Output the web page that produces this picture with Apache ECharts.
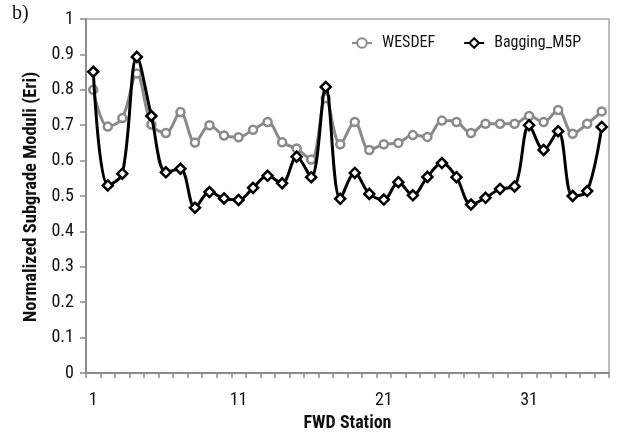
<!DOCTYPE html>
<html>
<head>
<meta charset="utf-8">
<script src="https://cdn.jsdelivr.net/npm/echarts@6/dist/echarts.min.js"></script>
<style>html,body{margin:0;padding:0;background:#fff}#c{width:618px;height:437px}</style>
</head>
<body>
<div id="c"></div>
<script>
var stations = [];
for (var i = 1; i <= 36; i++) stations.push(String(i));
var wesdef = [0.80,0.696,0.72,0.846,0.702,0.678,0.737,0.651,0.70,0.671,0.666,0.687,0.709,0.652,0.634,0.603,0.776,0.646,
              0.709,0.63,0.646,0.65,0.672,0.667,0.713,0.709,0.678,0.704,0.704,0.704,0.726,0.709,0.743,0.676,0.704,0.739];
var bagging = [0.851,0.530,0.563,0.893,0.726,0.567,0.577,0.467,0.511,0.493,0.489,0.523,0.557,0.536,0.611,0.553,0.808,0.492,
               0.565,0.506,0.49,0.539,0.502,0.554,0.593,0.553,0.476,0.495,0.52,0.527,0.70,0.63,0.683,0.50,0.514,0.695];
var yTicks = {min: 0, max: 1, interval: 0.1};
var FONT = 'Roboto, sans-serif';

var chart = echarts.init(document.getElementById('c'), null, {renderer: 'canvas'});
chart.setOption({
  animation: false,
  backgroundColor: '#fff',
  grid: {left: 86, right: 9, top: 19, bottom: 60, show: true, borderColor: '#a8a8a8', borderWidth: 1.5},
  legend: {
    top: 30, right: 32, itemGap: 28, itemWidth: 20, itemHeight: 12,
    textStyle: {fontFamily: FONT, fontWeight: 'condensed', fontSize: 16, color: '#111', padding: [0, 0, 0, 5]},
    data: ['WESDEF', 'Bagging_M5P']
  },
  xAxis: {
    type: 'category', data: stations, boundaryGap: true,
    name: 'FWD Station', nameLocation: 'middle', nameGap: 41,
    nameTextStyle: {fontFamily: FONT, fontWeight: 'bold semi-condensed', fontSize: 18, color: '#111'},
    axisLine: {lineStyle: {color: '#8c8c8c', width: 2}},
    axisTick: {show: true, interval: 0, length: 5, lineStyle: {color: '#8c8c8c', width: 1.5}},
    axisLabel: {interval: 9, margin: 18, fontFamily: FONT, fontWeight: 'condensed', fontSize: 18, color: '#111'},
    splitLine: {show: false}
  },
  yAxis: {
    type: 'value', min: yTicks.min, max: yTicks.max, interval: yTicks.interval,
    axisLine: {show: true, lineStyle: {color: '#8c8c8c', width: 2}},
    axisTick: {show: true, length: 6, lineStyle: {color: '#8c8c8c', width: 1.5}},
    axisLabel: {margin: 12, fontFamily: FONT, fontWeight: 'condensed', fontSize: 18, color: '#111',
      formatter: function (v) { return String(Math.round(v * 10) / 10); }},
    splitLine: {show: false}
  },
  graphic: [
    {type: 'text', left: 12, top: 4, style: {text: 'b)', font: '20px "Liberation Serif", serif', fill: '#111'}},
    {type: 'text', x: 31, y: 197, rotation: Math.PI / 2,
     style: {text: 'Normalized Subgrade Moduli (Eri)', font: 'bold semi-condensed 18.5px Roboto, sans-serif',
             fill: '#111', align: 'center', verticalAlign: 'middle'}}
  ],
  series: [
    {name: 'WESDEF', type: 'line', data: wesdef, smooth: 0.35,
     symbol: 'circle', symbolSize: 8, showAllSymbol: true,
     lineStyle: {color: '#8a8a8a', width: 3},
     itemStyle: {color: '#fff', borderColor: '#8a8a8a', borderWidth: 2.5},
     z: 2},
    {name: 'Bagging_M5P', type: 'line', data: bagging, smooth: 0.35,
     symbol: 'diamond', symbolSize: 10, showAllSymbol: true,
     lineStyle: {color: '#000', width: 3},
     itemStyle: {color: '#fff', borderColor: '#000', borderWidth: 2.5},
     z: 3}
  ]
});
</script>
</body>
</html>
